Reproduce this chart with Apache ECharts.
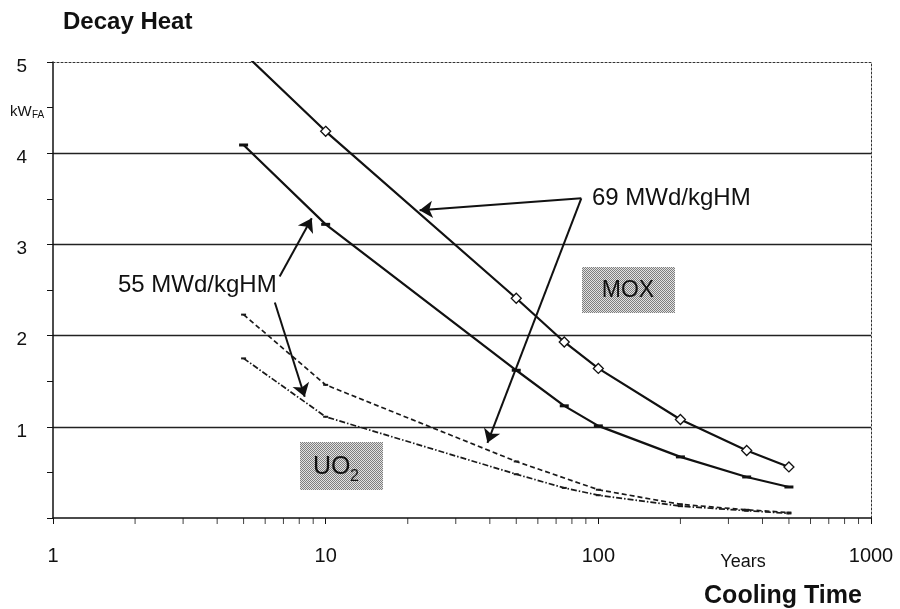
<!DOCTYPE html>
<html><head><meta charset="utf-8">
<script src="https://cdn.jsdelivr.net/npm/echarts@6.0.0/dist/echarts.min.js"></script>
<style>html,body{margin:0;padding:0;background:#fff}#c{width:900px;height:609px}</style>
</head><body><div id="c"></div>
<script>
// ---- data ----
const moxYears   = [5, 10, 50, 75, 100, 200, 350, 500];
const mox69      = [5.1, 4.24, 2.41, 1.93, 1.64, 1.08, 0.74, 0.56];
const mox55      = [4.09, 3.22, 1.62, 1.23, 1.01, 0.67, 0.45, 0.34];
const uo2Years69 = [5, 10, 50, 100, 200, 350, 500];
const uo2_69     = [2.23, 1.46, 0.62, 0.31, 0.15, 0.09, 0.06];
const uo2Years55 = [5, 10, 50, 75, 100, 200, 350, 500];
const uo2_55     = [1.75, 1.11, 0.48, 0.33, 0.25, 0.13, 0.08, 0.05];
const xTickLabels = [1, 10, 100, 1000];
const yTickLabels = [1, 2, 3, 4, 5];
const minorTickYears = [2,3,4,5,6,7,8,9,20,30,40,50,60,70,80,90,200,300,400,500,600,700,800,900];
// arrows: [fromYear, fromValue, toYear, toValue]
const arrows69 = [[86.6, 3.505, 22.1, 3.374], [86.6, 3.505, 39.2, 0.824]];
const arrows55 = [[6.78, 2.648, 8.89, 3.286], [6.51, 2.363, 8.38, 1.33]];

const FONT = '"Liberation Sans", Arial, sans-serif';
const INK = '#111';

function pairs(xs, ys) { return xs.map((x, i) => [x, ys[i]]); }

// stipple pattern for label boxes
const pc = document.createElement('canvas');
pc.width = 2; pc.height = 2;
const pctx = pc.getContext('2d');
pctx.fillStyle = '#e2e2e2'; pctx.fillRect(0, 0, 2, 2);
pctx.fillStyle = '#7e7e7e'; pctx.fillRect(0, 0, 1, 1); pctx.fillRect(1, 1, 1, 1);

const chart = echarts.init(document.getElementById('c'), null, {renderer: 'canvas'});

const arrowLines = arrows69.concat(arrows55).map(a => [
  {coord: [a[0], a[1]]}, {coord: [a[2], a[3]]}
]);

const option = {
  animation: false,
  backgroundColor: '#fff',
  grid: {left: 53, right: 29, top: 62, bottom: 91, outerBoundsMode: 'none'},
  xAxis: [{
    type: 'log', logBase: 10, min: 1, max: 1000,
    axisLine: {show: true, onZero: false, lineStyle: {color: INK, width: 1.5}},
    axisTick: {show: true, length: 6, lineStyle: {color: INK, width: 1}},
    axisLabel: {
      show: true, margin: 28, fontSize: 20, color: INK, fontFamily: FONT,
      formatter: v => xTickLabels.indexOf(Math.round(v)) >= 0 ? String(Math.round(v)) : ''
    },
    splitLine: {show: false}
  }, {
    type: 'log', logBase: 10, min: 1, max: 1000, position: 'top',
    axisLine: {show: true, onZero: false, lineStyle: {color: '#333', width: 1, type: [2, 2]}},
    axisTick: {show: false}, axisLabel: {show: false}, splitLine: {show: false}
  }],
  yAxis: [{
    type: 'value', min: 0, max: 5, interval: 0.5, position: 'left',
    axisLine: {show: true, onZero: false, lineStyle: {color: INK, width: 1.5}},
    axisTick: {show: true, length: 6, lineStyle: {color: INK, width: 1}},
    axisLabel: {
      show: true, margin: 26, color: INK, fontFamily: FONT,
      formatter: v => yTickLabels.indexOf(v) >= 0 ? '{p|' + v + '}' : '',
      rich: {p: {fontSize: 19, color: INK, fontFamily: FONT, padding: [9, 0, 0, 0]}}
    },
    splitLine: {show: false}
  }, {
    type: 'value', min: 0, max: 5, interval: 1, position: 'left',
    axisLine: {show: false}, axisTick: {show: false}, axisLabel: {show: false},
    splitLine: {show: true, showMinLine: false, showMaxLine: false, lineStyle: {color: '#222', width: 1.4}}
  }, {
    type: 'value', min: 0, max: 5, interval: 1, position: 'right',
    axisLine: {show: true, onZero: false, lineStyle: {color: '#333', width: 1, type: [2, 2]}},
    axisTick: {show: false}, axisLabel: {show: false}, splitLine: {show: false}
  }],
  series: [{
    name: 'MOX 69', type: 'line', data: moxYears.map((t, i) => ({value: [t, mox69[i]], symbol: i === 0 ? 'none' : 'diamond'})),
    symbolSize: 10, showAllSymbol: true, clip: true,
    lineStyle: {color: INK, width: 2.2},
    itemStyle: {color: '#fff', borderColor: INK, borderWidth: 1.3},
    z: 5, silent: true,
    markLine: {
      silent: true, symbol: ['none', 'arrow'], symbolSize: 13,
      lineStyle: {color: INK, width: 2, type: 'solid'},
      itemStyle: {color: INK},
      label: {show: false}, data: arrowLines
    }
  }, {
    name: 'MOX 55', type: 'line', data: pairs(moxYears, mox55),
    symbol: 'rect', symbolSize: [9, 3], showAllSymbol: true,
    lineStyle: {color: INK, width: 2.2}, itemStyle: {color: INK}, z: 4, silent: true
  }, {
    name: 'UO2 69', type: 'line', data: pairs(uo2Years69, uo2_69),
    symbol: 'rect', symbolSize: [5, 2], showAllSymbol: true,
    lineStyle: {color: '#1a1a1a', width: 1.7, type: [5, 3]}, itemStyle: {color: '#1a1a1a'}, z: 3, silent: true
  }, {
    name: 'UO2 55', type: 'line', data: pairs(uo2Years55, uo2_55),
    symbol: 'rect', symbolSize: [5, 2], showAllSymbol: true,
    lineStyle: {color: '#1a1a1a', width: 1.7, type: [6, 2, 1.5, 2]}, itemStyle: {color: '#1a1a1a'}, z: 3, silent: true
  }, {
    name: 'minor ticks', type: 'scatter', data: minorTickYears.map(t => [t, 0]),
    symbol: 'rect', symbolSize: [1, 6], symbolOffset: [0, 3], clip: false,
    itemStyle: {color: INK}, silent: true, z: 6
  }],
  graphic: [
    {type: 'text', x: 63, y: 22, style: {text: 'Decay Heat', font: 'bold 24px ' + FONT, fill: INK, textAlign: 'left', textVerticalAlign: 'middle'}},
    {type: 'text', x: 10, y: 112, style: {text: 'kW', font: '15px ' + FONT, fill: INK, textAlign: 'left', textVerticalAlign: 'middle'}},
    {type: 'text', x: 32, y: 115, style: {text: 'FA', font: '10px ' + FONT, fill: INK, textAlign: 'left', textVerticalAlign: 'middle'}},
    {type: 'text', x: 592, y: 198, style: {text: '69 MWd/kgHM', font: '24px ' + FONT, fill: INK, textAlign: 'left', textVerticalAlign: 'middle'}},
    {type: 'text', x: 118, y: 285, style: {text: '55 MWd/kgHM', font: '24px ' + FONT, fill: INK, textAlign: 'left', textVerticalAlign: 'middle'}},
    {type: 'rect', shape: {x: 582, y: 267, width: 93, height: 46}, style: {fill: {image: pc, repeat: 'repeat'}}},
    {type: 'text', x: 628, y: 291, style: {text: 'MOX', font: '23px ' + FONT, fill: INK, textAlign: 'center', textVerticalAlign: 'middle'}},
    {type: 'rect', shape: {x: 300, y: 442, width: 83, height: 48}, style: {fill: {image: pc, repeat: 'repeat'}}},
    {type: 'text', x: 313, y: 467, style: {text: 'UO', font: '25px ' + FONT, fill: INK, textAlign: 'left', textVerticalAlign: 'middle'}},
    {type: 'text', x: 350, y: 477, style: {text: '2', font: '16px ' + FONT, fill: INK, textAlign: 'left', textVerticalAlign: 'middle'}},
    {type: 'text', x: 743, y: 562, style: {text: 'Years', font: '18px ' + FONT, fill: INK, textAlign: 'center', textVerticalAlign: 'middle'}},
    {type: 'text', x: 783, y: 596, style: {text: 'Cooling Time', font: 'bold 25px ' + FONT, fill: INK, textAlign: 'center', textVerticalAlign: 'middle'}}
  ]
};
chart.setOption(option);
</script>
</body></html>
